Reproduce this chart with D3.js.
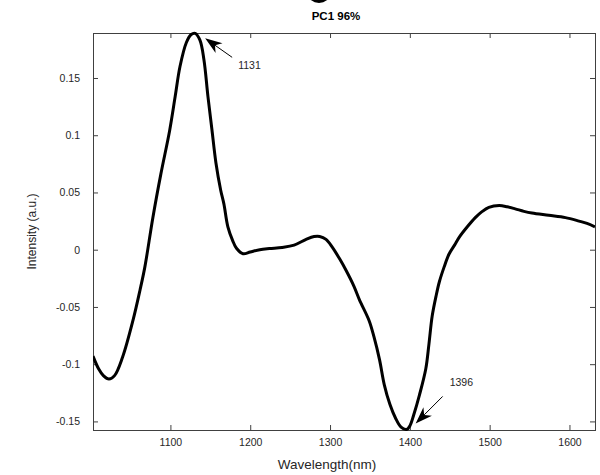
<!DOCTYPE html>
<html>
<head>
  <meta charset="utf-8">
  <title>PC1 96%</title>
  <script src="https://d3js.org/d3.v7.min.js"></script>
  <style>
    body { margin: 0; background: #fff; }
    text { font-family: "Liberation Sans", Arial, Helvetica, sans-serif; }
  </style>
</head>
<body>
  <div id="chart"></div>

  <script type="text/javascript">

    // PC1 loading (wavelength in nm, intensity in a.u.)
    var wavelengths = [1003, 1010, 1016, 1023, 1030, 1040, 1053, 1062, 1068, 1078,
                       1088, 1099, 1106, 1112, 1120, 1126, 1131, 1137, 1142, 1147,
                       1152, 1157, 1163, 1167, 1172, 1178, 1183, 1191, 1200, 1212,
                       1224, 1240, 1255, 1270, 1280, 1287, 1295, 1303, 1312, 1320,
                       1330, 1337, 1349, 1355, 1362, 1368, 1375, 1382, 1389, 1396,
                       1400, 1405, 1412, 1420, 1424, 1428, 1433, 1437, 1443, 1449,
                       1456, 1462, 1472, 1482, 1490, 1499, 1512, 1522, 1532, 1543,
                       1553, 1574, 1595, 1612, 1622, 1632];
    var intensity = [-0.093, -0.104, -0.110, -0.113, -0.110, -0.094, -0.062, -0.035, -0.015, 0.028,
                     0.066, 0.104, 0.134, 0.160, 0.181, 0.188, 0.189, 0.183, 0.166, 0.134,
                     0.105, 0.076, 0.052, 0.040, 0.020, 0.008, 0.001, -0.0035, -0.002, 0.000,
                     0.001, 0.002, 0.004, 0.009, 0.0115, 0.0116, 0.009, 0.002, -0.008, -0.018,
                     -0.032, -0.044, -0.062, -0.076, -0.096, -0.118, -0.135, -0.147, -0.155, -0.157,
                     -0.154, -0.144, -0.127, -0.104, -0.082, -0.058, -0.040, -0.028, -0.015, -0.004,
                     0.004, 0.011, 0.020, 0.028, 0.033, 0.037, 0.0386, 0.0375, 0.0357, 0.0335,
                     0.032, 0.030, 0.028, 0.025, 0.023, 0.020];

    var xDomain = [1003, 1632];
    var yDomain = [-0.1575, 0.1893];
    var xTicks = [1100, 1200, 1300, 1400, 1500, 1600];
    var yTicks = [-0.15, -0.1, -0.05, 0, 0.05, 0.1, 0.15];
    var yTickLabels = ['-0.15', '-0.1', '-0.05', '0', '0.05', '0.1', '0.15'];
    var peaks = [{wl: 1131, label: '1131'}, {wl: 1396, label: '1396'}];

    var data = wavelengths.map(function(w, i) { return {wl: w, v: intensity[i]}; });

    // Setting up the graph dimensions and margins
    var totalW = 600, totalH = 475;
    var margin = {top: 33, right: 5, bottom: 45, left: 93};
    var width = totalW - margin.left - margin.right;
    var height = totalH - margin.top - margin.bottom;
    var axisColor = '#404040';

    var x = d3.scaleLinear().domain(xDomain).range([0, width]);
    var y = d3.scaleLinear().domain(yDomain).range([height, 0]);

    var root = d3.select('#chart')
                 .append('svg')
                   .attr('width', totalW)
                   .attr('height', totalH);

    // bottom of a glyph cut off by the top edge of the figure
    root.append('ellipse')
        .attr('cx', 319)
        .attr('cy', -6)
        .attr('rx', 11)
        .attr('ry', 9)
        .attr('fill', '#000');

    root.append('text')
        .attr('x', 336)
        .attr('y', 20)
        .attr('text-anchor', 'middle')
        .style('font-size', '11.5px')
        .style('font-weight', 'bold')
        .style('fill', '#000')
        .text('PC1 96%');

    var svg = root.append('g')
                  .attr('transform', 'translate(' + margin.left + ',' + margin.top + ')');

    svg.append('defs').append('clipPath')
        .attr('id', 'plot-clip')
      .append('rect')
        .attr('x', 0).attr('y', -2)
        .attr('width', width).attr('height', height + 4);

    // Axes with inward ticks on all four sides
    var bottomAxis = d3.axisBottom(x).tickValues(xTicks).tickSize(-5).tickPadding(9).tickFormat(d3.format('d'));
    var topAxis = d3.axisTop(x).tickValues(xTicks).tickSize(-5).tickFormat('');
    var leftAxis = d3.axisLeft(y).tickValues(yTicks).tickSize(-5).tickPadding(13)
                     .tickFormat(function(d, i) { return yTickLabels[i]; });
    var rightAxis = d3.axisRight(y).tickValues(yTicks).tickSize(-5).tickFormat('');

    function styleAxis(g) {
      g.select('.domain').attr('stroke', axisColor);
      g.selectAll('.tick line').attr('stroke', axisColor);
      g.selectAll('.tick text')
        .style('font-size', '10.5px')
        .style('fill', '#262626');
    }

    svg.append('g').attr('transform', 'translate(0,' + height + ')').call(bottomAxis).call(styleAxis);
    svg.append('g').call(topAxis).call(styleAxis);
    svg.append('g').call(leftAxis).call(styleAxis);
    svg.append('g').attr('transform', 'translate(' + width + ',0)').call(rightAxis).call(styleAxis);

    svg.selectAll('.domain').attr('d', null);
    svg.append('rect')
        .attr('x', 0).attr('y', 0)
        .attr('width', width).attr('height', height)
        .attr('fill', 'none')
        .attr('stroke', axisColor)
        .attr('stroke-width', 1)
        .attr('shape-rendering', 'crispEdges');

    // Axis labels
    root.append('text')
        .attr('x', 327)
        .attr('y', 469)
        .attr('text-anchor', 'middle')
        .style('font-size', '13.5px')
        .style('fill', '#262626')
        .text('Wavelength(nm)');

    root.append('text')
        .attr('transform', 'translate(36,' + (margin.top + height / 2) + ') rotate(-90)')
        .attr('text-anchor', 'middle')
        .style('font-size', '12px')
        .style('fill', '#262626')
        .text('Intensity (a.u.)');

    // The loading curve
    var line = d3.line()
        .x(function(d) { return x(d.wl); })
        .y(function(d) { return y(d.v); })
        .curve(d3.curveCatmullRom.alpha(0.5));

    svg.append('path')
        .datum(data)
        .attr('clip-path', 'url(#plot-clip)')
        .attr('fill', 'none')
        .attr('stroke', '#000')
        .attr('stroke-width', 3)
        .attr('stroke-linejoin', 'round')
        .attr('d', line);

    // Peak annotations (arrow + label)
    function peakValue(wl) {
      var best = data[0];
      data.forEach(function(d) { if (Math.abs(d.wl - wl) < Math.abs(best.wl - wl)) best = d; });
      return best.v;
    }

    function drawArrow(tipX, tipY, tailX, tailY) {
      var ang = Math.atan2(tipY - tailY, tipX - tailX);
      var len = 17, half = 6, back = 12;
      var cos = Math.cos(ang), sin = Math.sin(ang);
      function pt(along, across) {
        return [tipX - along * cos - across * sin, tipY - along * sin + across * cos];
      }
      svg.append('line')
          .attr('x1', tailX).attr('y1', tailY)
          .attr('x2', pt(back, 0)[0]).attr('y2', pt(back, 0)[1])
          .attr('stroke', '#000')
          .attr('stroke-width', 1);
      svg.append('path')
          .attr('d', 'M' + [tipX, tipY] + 'L' + pt(len, half) + 'L' + pt(back, 0) + 'L' + pt(len, -half) + 'Z')
          .attr('fill', '#000');
    }

    // 1131 peak: arrow from lower right
    var p1x = x(peaks[0].wl), p1y = y(peakValue(peaks[0].wl));
    drawArrow(p1x + 10, p1y + 5, p1x + 37, p1y + 24);
    svg.append('text')
        .attr('x', p1x + 43).attr('y', p1y + 36)
        .style('font-size', '10.5px')
        .style('fill', '#262626')
        .text(peaks[0].label);

    // 1396 trough: arrow from upper right
    var p2x = x(peaks[1].wl), p2y = y(peakValue(peaks[1].wl));
    drawArrow(p2x + 9, p2y - 6, p2x + 36, p2y - 33);
    svg.append('text')
        .attr('x', p2x + 43).attr('y', p2y - 43)
        .style('font-size', '10.5px')
        .style('fill', '#262626')
        .text(peaks[1].label);

  </script>
</body>
</html>
